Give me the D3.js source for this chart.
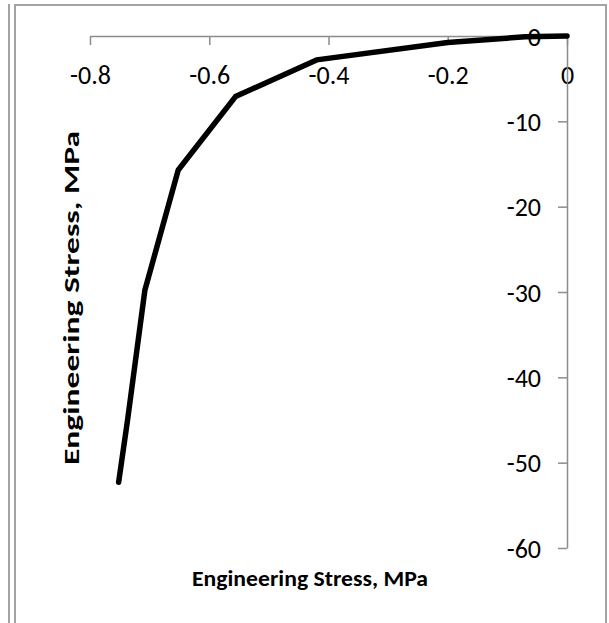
<!DOCTYPE html>
<html>
<head>
<meta charset="utf-8">
<script src="https://cdn.jsdelivr.net/npm/d3@7"></script>
<style>
  html, body { margin: 0; padding: 0; background: #fff; }
  svg { display: block; }
  text { fill: #000; }
</style>
</head>
<body>
<svg id="chart" width="609" height="623"></svg>
<script>
// Compression curve: strain vs. stress
const strain = [0, -0.07, -0.2, -0.42, -0.556, -0.652, -0.708, -0.737, -0.752];
const stress = [0, -0.1, -0.75, -2.8, -7.1, -15.7, -29.8, -45, -52.3];
const xTicks = [-0.8, -0.6, -0.4, -0.2, 0];
const yTicks = [0, -10, -20, -30, -40, -50, -60];
const xTitle = "Engineering Stress, MPa";
const yTitle = "Engineering Stress, MPa";

const FONT = "Carlito, Lato, 'Open Sans', sans-serif";
const svg = d3.select("#chart");
const W = 609, H = 623;

// frame lines
const frame = svg.append("g").attr("stroke", "#a3a3a3").attr("stroke-width", 2).attr("fill", "none");
frame.append("line").attr("x1", 9).attr("y1", 4).attr("x2", 9).attr("y2", H);
frame.append("path").attr("d", `M15,${H} V5 H606 V${H}`);

const x = d3.scaleLinear().domain([-0.8, 0]).range([90, 567]);
const y = d3.scaleLinear().domain([-60, 0]).range([548, 36]);

const axisColor = "#8c8c8c";

// x axis sits at stress = 0, ticks pointing down
const gx = svg.append("g").attr("transform", `translate(0,${y(0)})`)
  .call(d3.axisBottom(x).tickValues(xTicks).tickSize(9).tickSizeOuter(0).tickPadding(30)
    .tickFormat(d => d === 0 ? "0" : d3.format(".1f")(d).replace("−", "-")));
gx.attr("font-family", FONT).attr("font-size", 26);
gx.select(".domain").attr("stroke", axisColor).attr("stroke-width", 1.5);
gx.selectAll(".tick line").attr("stroke", axisColor).attr("stroke-width", 1.5);
gx.selectAll(".tick text").attr("dy", "0.35em");

// y axis sits at strain = 0, ticks pointing left
const gy = svg.append("g").attr("transform", `translate(${x(0)},0)`)
  .call(d3.axisLeft(y).tickValues(yTicks).tickSize(9).tickSizeOuter(0).tickPadding(17)
    .tickFormat(d => String(d)));
gy.attr("font-family", FONT).attr("font-size", 26);
gy.select(".domain").attr("stroke", axisColor).attr("stroke-width", 1.5);
gy.selectAll(".tick line").attr("stroke", axisColor).attr("stroke-width", 1.5);
gy.selectAll(".tick line").filter(d => d === 0).remove();
gy.selectAll(".tick text").attr("dy", "0.35em");

// curve
const pts = strain.map((s, i) => [s, stress[i]]);
svg.append("path")
  .datum(pts)
  .attr("fill", "none")
  .attr("stroke", "#000")
  .attr("stroke-width", 5.5)
  .attr("stroke-linejoin", "round")
  .attr("stroke-linecap", "round")
  .attr("d", d3.line().x(d => x(d[0])).y(d => y(d[1])));

// axis titles
svg.append("text")
  .attr("x", 310).attr("y", 586)
  .attr("text-anchor", "middle")
  .attr("font-family", FONT)
  .attr("font-weight", "bold").attr("font-size", 23)
  .attr("textLength", 236).attr("lengthAdjust", "spacingAndGlyphs")
  .text(xTitle);

svg.append("text")
  .attr("transform", `translate(79,298) rotate(-90)`)
  .attr("text-anchor", "middle")
  .attr("font-family", FONT)
  .attr("font-weight", "bold").attr("font-size", 23)
  .attr("textLength", 334).attr("lengthAdjust", "spacingAndGlyphs")
  .text(yTitle);
</script>
</body>
</html>
